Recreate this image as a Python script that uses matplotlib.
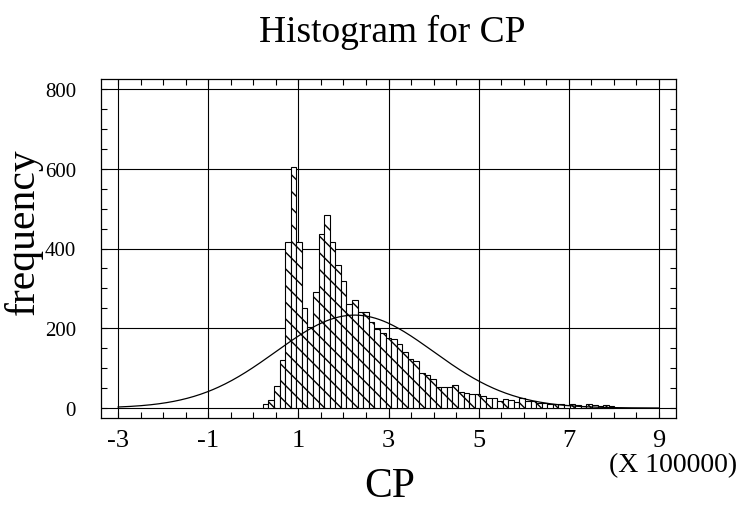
import numpy as np
import matplotlib
matplotlib.use("Agg")
import matplotlib.pyplot as plt
from matplotlib.ticker import MultipleLocator

# histogram of CP (x in units of 100000)
bin_start = 0.21
bin_width = 0.1238
counts = [9, 20, 56, 121, 416, 604, 417, 252, 204, 292,
          436, 484, 417, 359, 319, 262, 272, 242, 240, 216,
          198, 188, 176, 173, 160, 140, 123, 119, 89, 83,
          73, 52, 52, 52, 58, 41, 38, 35, 35, 29,
          26, 24, 18, 23, 20, 14, 24, 17, 17, 13,
          13, 11, 9, 10, 8, 9, 7, 6, 9, 8,
          5, 7, 4]

# fitted normal curve
fit_mean = 2.25
fit_sd = 1.75
fit_peak = 233

x_ticks = [-3, -1, 1, 3, 5, 7, 9]
y_ticks = [0, 200, 400, 600, 800]

plt.rcParams['font.family'] = ['Liberation Serif', 'DejaVu Serif']
plt.rcParams['hatch.linewidth'] = 1.0
plt.rcParams['axes.unicode_minus'] = False

W, H = 741, 506
fig = plt.figure(figsize=(W / 100, H / 100), dpi=100)
ax = fig.add_axes([101 / W, 1 - 419 / H, (676 - 101) / W, (419 - 80) / H])

edges = bin_start + bin_width * np.arange(len(counts))
ax.bar(edges, counts, width=bin_width, align='edge', color='white',
       edgecolor='black', linewidth=0.8, hatch='\\\\', zorder=3)

xc = np.linspace(-3, 9, 400)
yc = fit_peak * np.exp(-0.5 * ((xc - fit_mean) / fit_sd) ** 2)
ax.plot(xc, yc, color='black', linewidth=0.9, zorder=4)

ax.set_xlim(-3.38, 9.38)
ax.set_ylim(-25, 825)
ax.set_xticks(x_ticks)
ax.set_yticks(y_ticks)
ax.xaxis.set_minor_locator(MultipleLocator(0.5))
ax.yaxis.set_minor_locator(MultipleLocator(50))
ax.grid(True, which='major', color='black', linewidth=0.8, zorder=1)
ax.set_axisbelow(True)
for s in ax.spines.values():
    s.set_linewidth(0.9)

ax.tick_params(which='both', direction='in', top=True, right=True,
               length=4, width=0.8)
ax.tick_params(axis='x', which='major', labelsize=19, pad=8)
ax.tick_params(axis='y', which='major', labelsize=15, pad=18)

fig.text(392 / W, 1 - 32 / H, 'Histogram for CP', fontsize=27,
         ha='center', va='center')
fig.text(23 / W, 1 - 232 / H, 'frequency', fontsize=30, rotation=90,
         ha='center', va='center')
fig.text(390 / W, 1 - 497 / H, 'CP', fontsize=30, ha='center',
         va='baseline')
fig.text(737 / W, 1 - 466 / H, '(X 100000)', fontsize=20,
         ha='right', va='center')

fig.savefig('out.png', dpi=100)
